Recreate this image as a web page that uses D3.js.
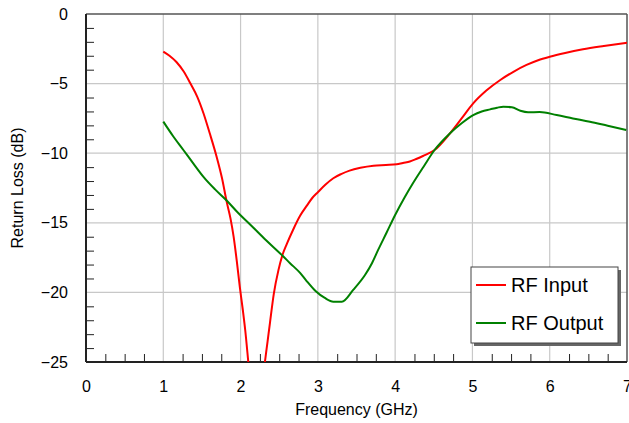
<!DOCTYPE html>
<html>
<head>
<meta charset="utf-8">
<script src="https://cdn.jsdelivr.net/npm/d3@7"></script>
<style>
  body { margin: 0; background: #fff; }
  text { font-family: Arial, "Liberation Sans", sans-serif; fill: #000; }
</style>
</head>
<body>
<svg id="chart" width="629" height="423"></svg>
<script>
// RF Input return loss (GHz, dB)
var inputFreq = [1.0, 1.08, 1.17, 1.26, 1.35, 1.44, 1.52, 1.6, 1.69, 1.76, 1.82, 1.87, 1.91, 1.95, 1.99, 2.03, 2.06, 2.10, 2.2, 2.315, 2.35, 2.38, 2.43, 2.49, 2.54, 2.60, 2.68, 2.77, 2.86, 2.93, 3.0, 3.1, 3.2, 3.3, 3.41, 3.55, 3.72, 3.88, 4.02, 4.1, 4.19, 4.28, 4.36, 4.51, 4.71, 4.86, 5.01, 5.18, 5.36, 5.53, 5.70, 5.85, 6.0, 6.2, 6.43, 6.7, 7.0];
var inputLoss = [-2.7, -3.0, -3.45, -4.1, -4.98, -5.95, -7.13, -8.55, -10.25, -11.8, -13.48, -14.7, -16.0, -17.7, -19.6, -21.3, -22.7, -25.0, -31.0, -25.0, -23.5, -22.2, -20.1, -18.4, -17.35, -16.5, -15.5, -14.5, -13.75, -13.2, -12.8, -12.25, -11.8, -11.5, -11.25, -11.05, -10.9, -10.85, -10.8, -10.7, -10.6, -10.4, -10.2, -9.77, -8.57, -7.5, -6.42, -5.5, -4.74, -4.15, -3.66, -3.32, -3.07, -2.8, -2.54, -2.3, -2.06];

// RF Output return loss (GHz, dB)
var outputFreq = [1.0, 1.13, 1.26, 1.39, 1.52, 1.67, 1.82, 1.97, 2.12, 2.33, 2.55, 2.64, 2.77, 2.85, 2.97, 3.09, 3.2, 3.31, 3.46, 3.61, 3.7, 3.78, 3.89, 4.0, 4.12, 4.23, 4.37, 4.51, 4.71, 4.86, 5.01, 5.12, 5.23, 5.32, 5.40, 5.51, 5.62, 5.72, 5.87, 6.09, 6.3, 6.52, 6.75, 6.99];
var outputLoss = [-7.73, -8.8, -9.77, -10.75, -11.7, -12.6, -13.4, -14.3, -15.1, -16.25, -17.4, -17.9, -18.6, -19.15, -19.9, -20.4, -20.67, -20.67, -19.8, -18.75, -17.9, -16.95, -15.7, -14.44, -13.2, -12.16, -10.95, -9.77, -8.57, -7.85, -7.26, -7.0, -6.85, -6.73, -6.66, -6.70, -6.95, -7.06, -7.04, -7.26, -7.5, -7.74, -8.03, -8.33];

var seriesNames = ["RF Input", "RF Output"];
var seriesColors = ["#ff0000", "#008000"];
var xTicks = [0, 1, 2, 3, 4, 5, 6, 7];
var yTicks = [0, -5, -10, -15, -20, -25];

var svg = d3.select("#chart");
var margin = { left: 86, right: 2, top: 14, bottom: 61 };
var width = 629 - margin.left - margin.right,
    height = 423 - margin.top - margin.bottom;

var x = d3.scaleLinear().domain([0, 7]).range([margin.left, margin.left + width]);
var y = d3.scaleLinear().domain([-25, 0]).range([margin.top + height, margin.top]);

// grid lines
var grid = svg.append("g");
grid.selectAll("line.vg")
    .data(xTicks.slice(1, -1))
    .enter().append("line")
    .attr("x1", function (d) { return x(d); })
    .attr("x2", function (d) { return x(d); })
    .attr("y1", y(0)).attr("y2", y(-25))
    .attr("stroke", "#c8c8c8").attr("stroke-width", 1.2);
grid.selectAll("line.hg")
    .data(yTicks.slice(1, -1))
    .enter().append("line")
    .attr("y1", function (d) { return y(d); })
    .attr("y2", function (d) { return y(d); })
    .attr("x1", x(0)).attr("x2", x(7))
    .attr("stroke", "#c8c8c8").attr("stroke-width", 1.2);

// minor ticks, pointing into the plot
var minorX = d3.range(0, 7.001, 0.25).filter(function (d) { return Math.abs(d - Math.round(d)) > 0.01; });
var minorY = d3.range(-25, 0.001, 1).filter(function (d) { return d % 5 !== 0; });
svg.append("g").attr("transform", "translate(0," + y(-25) + ")")
    .call(d3.axisTop(x).tickValues(minorX).tickSize(8).tickFormat(""))
    .call(function (g) { g.select(".domain").remove(); g.selectAll("line").attr("stroke", "#222"); });
svg.append("g").attr("transform", "translate(" + x(0) + ",0)")
    .call(d3.axisRight(y).tickValues(minorY).tickSize(8).tickFormat(""))
    .call(function (g) { g.select(".domain").remove(); g.selectAll("line").attr("stroke", "#222"); });

// tick labels
svg.append("g").attr("transform", "translate(0," + y(-25) + ")")
    .call(d3.axisBottom(x).tickValues(xTicks).tickSize(0).tickPadding(19).tickFormat(d3.format("d")))
    .call(function (g) {
        g.select(".domain").remove();
        g.selectAll("text").style("font-size", "16px").attr("fill", "#000");
    });
svg.append("g").attr("transform", "translate(" + x(0) + ",0)")
    .call(d3.axisLeft(y).tickValues(yTicks).tickSize(0).tickPadding(18).tickFormat(d3.format("d")))
    .call(function (g) {
        g.select(".domain").remove();
        g.selectAll("text").style("font-size", "16px").attr("fill", "#000");
    });

// frame
svg.append("line").attr("x1", x(0)).attr("x2", x(7)).attr("y1", y(0)).attr("y2", y(0))
    .attr("stroke", "#555").attr("stroke-width", 1.5);
svg.append("line").attr("x1", x(7)).attr("x2", x(7)).attr("y1", y(0)).attr("y2", y(-25))
    .attr("stroke", "#555").attr("stroke-width", 1.5);
svg.append("line").attr("x1", x(0)).attr("x2", x(0)).attr("y1", y(0)).attr("y2", y(-25))
    .attr("stroke", "#222").attr("stroke-width", 2);
svg.append("line").attr("x1", x(0)).attr("x2", x(7)).attr("y1", y(-25)).attr("y2", y(-25))
    .attr("stroke", "#222").attr("stroke-width", 2);

// curves
svg.append("clipPath").attr("id", "plotclip").append("rect")
    .attr("x", x(0)).attr("y", y(0)).attr("width", width).attr("height", height);

var line = d3.line()
    .x(function (d) { return x(d[0]); })
    .y(function (d) { return y(d[1]); })
    .curve(d3.curveMonotoneX);

var series = [d3.zip(inputFreq, inputLoss), d3.zip(outputFreq, outputLoss)];
svg.append("g").attr("clip-path", "url(#plotclip)")
    .selectAll("path")
    .data(series)
    .enter().append("path")
    .attr("d", line)
    .attr("fill", "none")
    .attr("stroke", function (d, i) { return seriesColors[i]; })
    .attr("stroke-width", 2);

// axis titles
svg.append("text").attr("x", x(3.5)).attr("y", 415)
    .attr("text-anchor", "middle").style("font-size", "16px")
    .text("Frequency (GHz)");
svg.append("text").attr("transform", "translate(23," + y(-12.5) + ") rotate(-90)")
    .attr("text-anchor", "middle").style("font-size", "16px")
    .text("Return Loss (dB)");

// legend
var lg = svg.append("g").attr("transform", "translate(471,267)");
lg.append("rect").attr("x", 3).attr("y", 3).attr("width", 147).attr("height", 76).attr("fill", "#666");
lg.append("rect").attr("x", 0).attr("y", 0).attr("width", 147).attr("height", 76)
    .attr("fill", "#fff").attr("stroke", "#444").attr("stroke-width", 1);
seriesNames.forEach(function (name, i) {
    var ly = 18 + i * 38;
    lg.append("line").attr("x1", 5).attr("x2", 35).attr("y1", ly).attr("y2", ly)
        .attr("stroke", seriesColors[i]).attr("stroke-width", 2);
    lg.append("text").attr("x", 40).attr("y", ly + 7).style("font-size", "20px").text(name);
});
</script>
</body>
</html>
